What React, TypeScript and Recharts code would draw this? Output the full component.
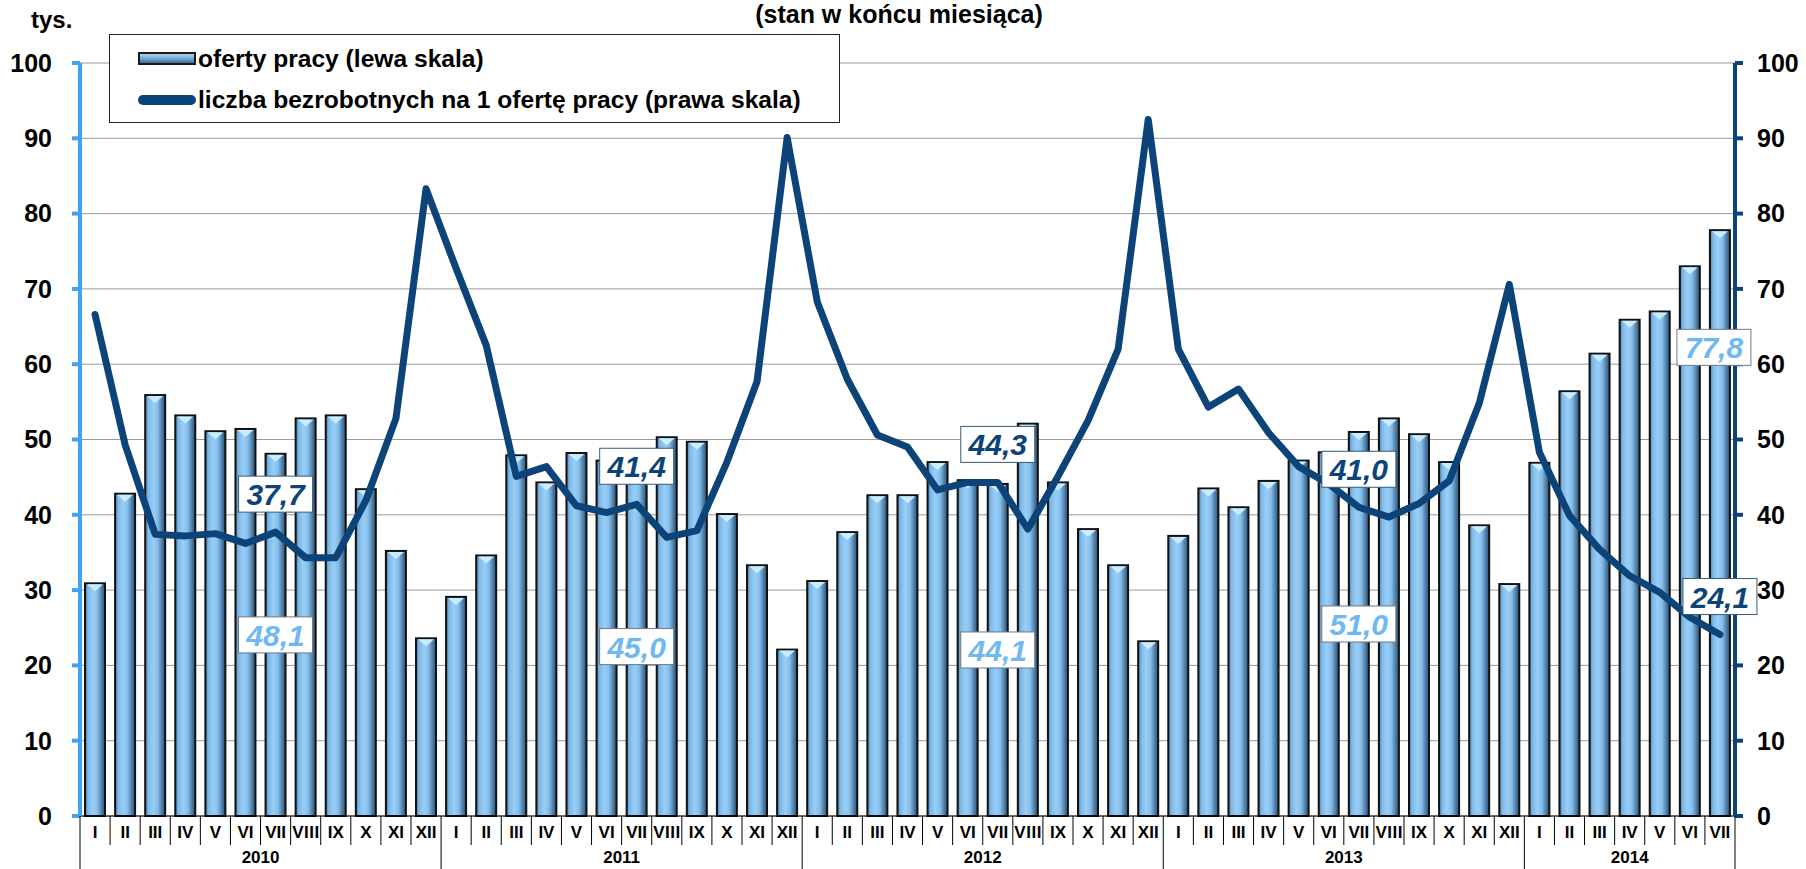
import React from 'react';
import { ComposedChart, Bar, Line, XAxis, YAxis, CartesianGrid, LabelList } from 'recharts';

const years = [2010, 2011, 2012, 2013, 2014];
const monthNames = ['I', 'II', 'III', 'IV', 'V', 'VI', 'VII', 'VIII', 'IX', 'X', 'XI', 'XII'];

// oferty pracy, tys. (lewa skala)
const jobOffers = [
  30.9, 42.8, 55.9, 53.2, 51.1, 51.4, 48.1, 52.8, 53.2, 43.4, 35.2, 23.6,
  29.1, 34.6, 47.9, 44.3, 48.2, 47.2, 45.0, 50.3, 49.7, 40.1, 33.3, 22.1,
  31.2, 37.7, 42.6, 42.6, 47.0, 44.6, 44.1, 52.1, 44.3, 38.1, 33.3, 23.2,
  37.2, 43.5, 41.0, 44.5, 47.2, 48.3, 51.0, 52.8, 50.7, 47.0, 38.6, 30.8,
  46.9, 56.4, 61.4, 65.9, 67.0, 73.0, 77.8,
];

// liczba bezrobotnych na 1 ofertę pracy (prawa skala)
const unemployedPerOffer = [
  66.6, 49.3, 37.4, 37.2, 37.5, 36.2, 37.7, 34.3, 34.3, 41.9, 52.8, 83.3,
  72.7, 62.5, 45.1, 46.4, 41.2, 40.3, 41.4, 37.0, 37.9, 47.0, 57.7, 90.1,
  68.3, 58.0, 50.6, 49.0, 43.3, 44.3, 44.3, 38.1, 45.1, 52.5, 62.0, 92.5,
  62.0, 54.3, 56.7, 50.9, 46.4, 44.1, 41.0, 39.7, 41.5, 44.5, 54.8, 70.6,
  48.3, 39.9, 35.4, 31.9, 29.7, 26.4, 24.1,
];

const yTicks = [0, 10, 20, 30, 40, 50, 60, 70, 80, 90, 100];
const labelMonth = 'VII';

const data = jobOffers.map((v, i) => ({
  key: `${years[Math.floor(i / 12)]}-${monthNames[i % 12]}`,
  year: years[Math.floor(i / 12)],
  month: monthNames[i % 12],
  offers: v,
  ratio: unemployedPerOffer[i],
}));

const W = 1806;
const H = 869;
const LEFT_W = 80;
const RIGHT_W = 71;
const TOP = 63;
const XAXIS_H = 53;
const PLOT_BOTTOM = H - XAXIS_H;
const BAND = (W - LEFT_W - RIGHT_W) / data.length;
const FONT = '"Liberation Sans", Arial, sans-serif';
const LIGHT_BLUE = '#3fa2f2';
const NAVY = '#0c4479';
const BAR_TEXT = '#6fb8f2';

const fmt = (v: number) => v.toFixed(1).replace('.', ',');

function MonthTick(props: any) {
  const { x, payload } = props;
  const i = payload?.index ?? props.index;
  const row = data[i];
  if (!row) return null;
  const half = BAND / 2;
  const firstOfYear = i === 0 || data[i - 1].year !== row.year;
  const last = i === data.length - 1;
  const count = data.filter((d) => d.year === row.year).length;
  return (
    <g>
      <line x1={x - half} x2={x - half} y1={PLOT_BOTTOM} y2={firstOfYear ? H : PLOT_BOTTOM + 29} stroke="#000" strokeWidth={1} />
      {last && <line x1={x + half} x2={x + half} y1={PLOT_BOTTOM} y2={H} stroke="#000" strokeWidth={1} />}
      <text x={x} y={PLOT_BOTTOM + 22} textAnchor="middle" fontSize={17} fontWeight={700} fontFamily={FONT} fill="#000" textLength={row.month.length > 3 ? 27 : undefined}>
        {row.month}
      </text>
      {firstOfYear && (
        <text x={x - half + (count * BAND) / 2} y={H - 6} textAnchor="middle" fontSize={17} fontWeight={700} fontFamily={FONT} fill="#000">
          {row.year}
        </text>
      )}
    </g>
  );
}

function BevelBar(props: any) {
  const { x, y, width, height } = props;
  if (!height || height <= 0) return null;
  const tri = Math.min(7, height);
  return (
    <g>
      <rect x={x} y={y} width={width} height={height} fill="url(#barGrad)" stroke="#111" strokeWidth={2} />
      <polygon points={`${x + 2},${y + 1} ${x + width - 2},${y + 1} ${x + width / 2},${y + 1 + tri}`} fill="#c9ecff" />
    </g>
  );
}

function Boxed({ cx, cy, text, color, border }: { cx: number; cy: number; text: string; color: string; border: string }) {
  const w = 74;
  const h = 36;
  return (
    <g>
      <rect x={cx - w / 2} y={cy - h / 2} width={w} height={h} fill="#fff" stroke={border} strokeWidth={1} />
      <text x={cx} y={cy + 11} textAnchor="middle" fontSize={30} fontWeight={700} fontStyle="italic" fontFamily={FONT} fill={color}>
        {text}
      </text>
    </g>
  );
}

function BarLabel(props: any) {
  const { x, y, width, height, index } = props;
  const row = data[index];
  if (!row || row.month !== labelMonth) return null;
  const last = index === data.length - 1;
  const cy = last ? y + height * 0.2 : y + height / 2;
  const cx = last ? x + width / 2 - 6 : x + width / 2;
  return <Boxed cx={cx} cy={cy} text={fmt(row.offers)} color={BAR_TEXT} border="#6d7a88" />;
}

function LineLabel(props: any) {
  const { x, y, index } = props;
  const row = data[index];
  if (!row || row.month !== labelMonth) return null;
  return <Boxed cx={x} cy={y - 38} text={fmt(row.ratio)} color={NAVY} border="#3a5a7a" />;
}

function LegendBox() {
  const rowStyle: React.CSSProperties = { display: 'flex', alignItems: 'center', height: 41 };
  const textStyle: React.CSSProperties = { fontSize: 24.6, fontWeight: 700, fontFamily: FONT, color: '#000', marginLeft: 2, whiteSpace: 'nowrap' };
  return (
    <div style={{ position: 'absolute', left: 109, top: 34, width: 731, height: 89, border: '1px solid #222', background: '#fff', boxSizing: 'border-box', padding: '3px 0 0 28px' }}>
      <div style={rowStyle}>
        <div style={{ width: 58, height: 13, border: '2px solid #1a1a1a', background: 'linear-gradient(#a7d6f7, #6d9fc7 60%, #3f6a8e)', boxSizing: 'border-box' }} />
        <span style={textStyle}>oferty pracy (lewa skala)</span>
      </div>
      <div style={rowStyle}>
        <div style={{ width: 58, height: 10, borderRadius: 5, background: NAVY }} />
        <span style={textStyle}>liczba bezrobotnych na 1 ofertę pracy (prawa skala)</span>
      </div>
    </div>
  );
}

export default function App() {
  return (
    <div style={{ position: 'absolute', left: 0, top: 0, width: W, height: H, background: '#fff', overflow: 'hidden' }}>
      <ComposedChart width={W} height={H} data={data} margin={{ top: TOP, right: 0, left: 0, bottom: 0 }} barSize={20}>
        <defs>
          <linearGradient id="barGrad" x1="0" y1="0" x2="1" y2="0">
            <stop offset="0" stopColor="#4a7aa3" />
            <stop offset="0.15" stopColor="#7fb8e6" />
            <stop offset="0.4" stopColor="#97cff8" />
            <stop offset="0.62" stopColor="#86beea" />
            <stop offset="0.85" stopColor="#4a79a1" />
            <stop offset="1" stopColor="#2c5173" />
          </linearGradient>
        </defs>
        <CartesianGrid vertical={false} stroke="#9a9a9a" strokeWidth={1} yAxisId="left" />
        <XAxis
          dataKey="key"
          interval={0}
          height={XAXIS_H}
          tickLine={false}
          axisLine={{ stroke: '#000', strokeWidth: 1 }}
          tick={(p: any) => <MonthTick {...p} />}
        />
        <YAxis
          yAxisId="left"
          orientation="left"
          width={LEFT_W}
          domain={[0, 100]}
          ticks={yTicks}
          interval={0}
          tickSize={8}
          tickMargin={20}
          axisLine={{ stroke: LIGHT_BLUE, strokeWidth: 4 }}
          tickLine={{ stroke: LIGHT_BLUE, strokeWidth: 4 }}
          tick={{ fill: '#000', fontSize: 25, fontWeight: 700, fontFamily: FONT }}
        />
        <YAxis
          yAxisId="right"
          orientation="right"
          width={RIGHT_W}
          domain={[0, 100]}
          ticks={yTicks}
          interval={0}
          tickSize={8}
          tickMargin={14}
          axisLine={{ stroke: NAVY, strokeWidth: 4 }}
          tickLine={{ stroke: NAVY, strokeWidth: 4 }}
          tick={{ fill: '#000', fontSize: 25, fontWeight: 700, fontFamily: FONT }}
        />
        <Bar yAxisId="left" dataKey="offers" name="oferty pracy (lewa skala)" shape={(p: any) => <BevelBar {...p} />} isAnimationActive={false}>
          <LabelList dataKey="offers" content={(p: any) => <BarLabel {...p} />} />
        </Bar>
        <Line
          yAxisId="right"
          dataKey="ratio"
          name="liczba bezrobotnych na 1 ofertę pracy (prawa skala)"
          type="linear"
          stroke={NAVY}
          strokeWidth={7}
          strokeLinejoin="round"
          strokeLinecap="round"
          dot={false}
          activeDot={false}
          isAnimationActive={false}
        >
          <LabelList dataKey="ratio" content={(p: any) => <LineLabel {...p} />} />
        </Line>
      </ComposedChart>
      <div style={{ position: 'absolute', left: 899, top: 0, transform: 'translateX(-50%)', whiteSpace: 'nowrap', fontSize: 25, fontWeight: 700, fontFamily: FONT, lineHeight: '28px' }}>
        (stan w końcu miesiąca)
      </div>
      <div style={{ position: 'absolute', left: 31, top: 8, fontSize: 24, fontWeight: 700, fontFamily: FONT, lineHeight: '24px' }}>tys.</div>
      <LegendBox />
    </div>
  );
}
